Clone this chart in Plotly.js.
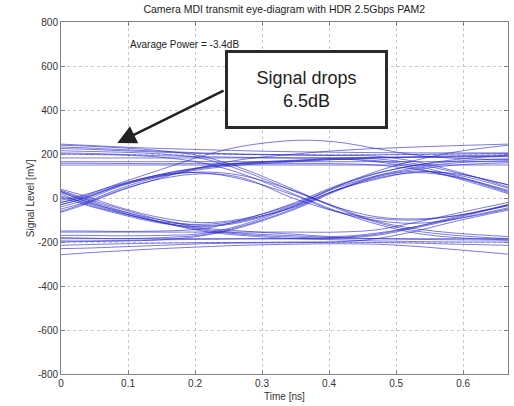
<!DOCTYPE html>
<html>
<head>
<meta charset="utf-8">
<script src="https://cdn.plot.ly/plotly-3.0.1.min.js"></script>
<style>html,body{margin:0;padding:0;background:#fff}#chart{width:514px;height:406px}</style>
</head>
<body>
<div id="chart"></div>
<script>
// sample times (ns)
const timeNs = [0, 0.035, 0.09, 0.15, 0.21, 0.27, 0.35, 0.41, 0.47, 0.53, 0.59, 0.667];

// eye-diagram waveforms (mV)
const w01 = [245, 240, 232, 225, 220, 215, 210, 208, 206, 205, 205, 205];
const w02 = [232, 228, 220, 212, 205, 200, 196, 195, 196, 198, 200, 202];
const w03 = [205, 203, 198, 192, 188, 185, 182, 182, 183, 185, 186, 188];
const w04 = [165, 165, 165, 165, 165, 165, 165, 165, 165, 165, 165, 165];
const w05 = [225, 222, 215, 208, 202, 198, 195, 193, 190, 165, 120, 50];
const w06 = [158, 158, 157, 156, 156, 156, 156, 156, 150, 130, 95, 25];
const w07 = [215, 212, 208, 200, 180, 125, 28, -40, -85, -95, -80, -35];
const w08 = [240, 236, 228, 215, 190, 135, 35, -45, -110, -150, -170, -185];
const w09 = [30, -15, -60, -100, -125, -105, -30, 45, 100, 130, 150, 160];
const w10 = [25, -10, -65, -110, -140, -160, -172, -180, -185, -188, -190, -192];
const w11 = [35, 0, -50, -100, -135, -150, -165, -175, -160, -130, -90, -30];
const w12 = [20, -25, -70, -108, -120, -100, -40, 35, 90, 115, 95, 35];
const w13 = [-50, -20, 45, 98, 130, 150, 165, 175, 182, 185, 188, 190];
const w14 = [-40, -10, 55, 103, 135, 155, 168, 175, 170, 145, 100, 30];
const w15 = [-60, -25, 38, 88, 110, 92, -5, -60, -92, -100, -80, -30];
const w16 = [-30, 0, 58, 100, 118, 102, 30, -40, -105, -140, -160, -175];
const w17 = [-180, -182, -185, -180, -168, -128, -45, 35, 100, 138, 160, 170];
const w18 = [-200, -198, -196, -190, -172, -132, -50, 30, 95, 122, 105, 45];
const w19 = [-185, -185, -185, -185, -185, -185, -185, -185, -185, -185, -185, -185];
const w20 = [-215, -212, -208, -205, -203, -202, -200, -200, -202, -205, -210, -215];
const w21 = [-258, -250, -240, -230, -222, -215, -210, -208, -210, -220, -235, -255];
const w22 = [-155, -155, -155, -155, -155, -155, -155, -155, -145, -110, -70, -20];
const w23 = [-195, -195, -193, -190, -188, -186, -185, -180, -165, -130, -85, -35];
const w24 = [-20, 10, 70, 130, 190, 235, 262, 255, 225, 195, 180, 175];
const w25 = [-65, -30, 35, 92, 140, 175, 200, 215, 225, 232, 238, 245];
const w26 = [40, 10, -45, -90, -112, -95, -25, 50, 110, 150, 175, 195];
const w27 = [-10, 15, 65, 105, 115, 85, 10, -62, -102, -115, -95, -50];
const w28 = [5, -30, -75, -115, -130, -110, -35, 35, 85, 118, 110, 60];
const w29 = [182, 182, 182, 182, 182, 182, 182, 182, 178, 155, 115, 60];
const w30 = [-230, -228, -222, -215, -208, -205, -203, -200, -185, -150, -105, -55];
const w31 = [200, 198, 195, 185, 160, 110, 15, -58, -118, -160, -180, -190];
const w32 = [-150, -150, -152, -150, -140, -100, -20, 55, 112, 148, 168, 178];
const w33 = [30, -5, -58, -110, -150, -170, -185, -190, -195, -198, -200, -200];
const w34 = [-30, -2, 60, 108, 140, 160, 172, 180, 185, 188, 192, 195];
const w35 = [-170, -170, -172, -170, -162, -122, -35, 50, 120, 172, 210, 240];
const w36 = [150, 150, 150, 150, 150, 150, 150, 150, 150, 150, 150, 150];
const w37 = [10, -20, -68, -112, -145, -165, -178, -182, -170, -135, -95, -45];
const w38 = [-20, 5, 62, 108, 138, 158, 170, 178, 165, 135, 90, 20];

const waves = [w01,w02,w03,w04,w05,w06,w07,w08,w09,w10,w11,w12,w13,w14,w15,w16,w17,w18,w19,
               w20,w21,w22,w23,w24,w25,w26,w27,w28,w29,w30,w31,w32,w33,w34,w35,w36,w37,w38];

const xTicks = [0, 0.1, 0.2, 0.3, 0.4, 0.5, 0.6];
const yTicks = [-800, -600, -400, -200, 0, 200, 400, 600, 800];

const traces = waves.map(function (w) {
  return {
    x: timeNs, y: w, type: 'scatter', mode: 'lines',
    line: {color: 'rgba(35,35,200,0.6)', width: 1, shape: 'spline', smoothing: 1},
    hoverinfo: 'skip', showlegend: false
  };
});

const fam = 'Liberation Sans, Arial, sans-serif';
const axisFont = {family: fam, size: 10, color: '#333'};

const layout = {
  width: 514, height: 406,
  margin: {l: 61, r: 6, t: 22, b: 32},
  paper_bgcolor: '#fff', plot_bgcolor: '#fff',
  font: axisFont,
  title: {text: 'Camera MDI transmit eye-diagram with HDR 2.5Gbps PAM2',
          font: {family: fam, size: 10.5, color: '#222'},
          x: 0.553, xanchor: 'center', y: 0.976, yanchor: 'middle'},
  xaxis: {range: [0, 0.667], tickvals: xTicks, ticktext: xTicks.map(String),
          showline: true, linecolor: '#808080', linewidth: 1, mirror: 'ticks',
          ticks: 'inside', ticklen: 4, tickcolor: '#808080',
          showgrid: true, gridcolor: '#c8c8c8', griddash: 'dot', gridwidth: 1,
          zeroline: false, tickfont: axisFont},
  yaxis: {range: [-800, 800], tickvals: yTicks, ticktext: yTicks.map(String),
          showline: true, linecolor: '#808080', linewidth: 1, mirror: 'ticks',
          ticks: 'inside', ticklen: 4, tickcolor: '#808080',
          showgrid: true, gridcolor: '#c8c8c8', griddash: 'dot', gridwidth: 1,
          zeroline: false, tickfont: axisFont},
  annotations: [
    {x: 0.5, y: -0.063, xref: 'paper', yref: 'paper', text: 'Time [ns]',
     showarrow: false, xanchor: 'center', yanchor: 'middle', font: axisFont},
    {x: -0.069, y: 0.5, xref: 'paper', yref: 'paper', text: 'Signal Level [mV]', textangle: -90,
     showarrow: false, xanchor: 'center', yanchor: 'middle', font: axisFont},
    {x: 0.1, y: 700, xref: 'x', yref: 'y', text: 'Avarage Power = -3.4dB',
     showarrow: false, xanchor: 'left', yanchor: 'middle',
     font: {family: fam, size: 10, color: '#222'}},
    {x: 0.084, y: 250, xref: 'x', yref: 'y', ax: 0.2448, ay: 491, axref: 'x', ayref: 'y',
     text: '', showarrow: true, arrowhead: 2, arrowsize: 1.5, arrowwidth: 2.5, arrowcolor: '#222'},
    {x: 0.3657, y: 493, xref: 'x', yref: 'y', text: 'Signal drops<br>6.5dB',
     showarrow: false, xanchor: 'center', yanchor: 'middle', align: 'center',
     width: 157, height: 73, bgcolor: '#fff', bordercolor: '#2a2a2a', borderwidth: 3, borderpad: 0,
     font: {family: fam, size: 18, color: '#222'}}
  ]
};

Plotly.newPlot('chart', traces, layout, {displayModeBar: false, staticPlot: true});
</script>
</body>
</html>
